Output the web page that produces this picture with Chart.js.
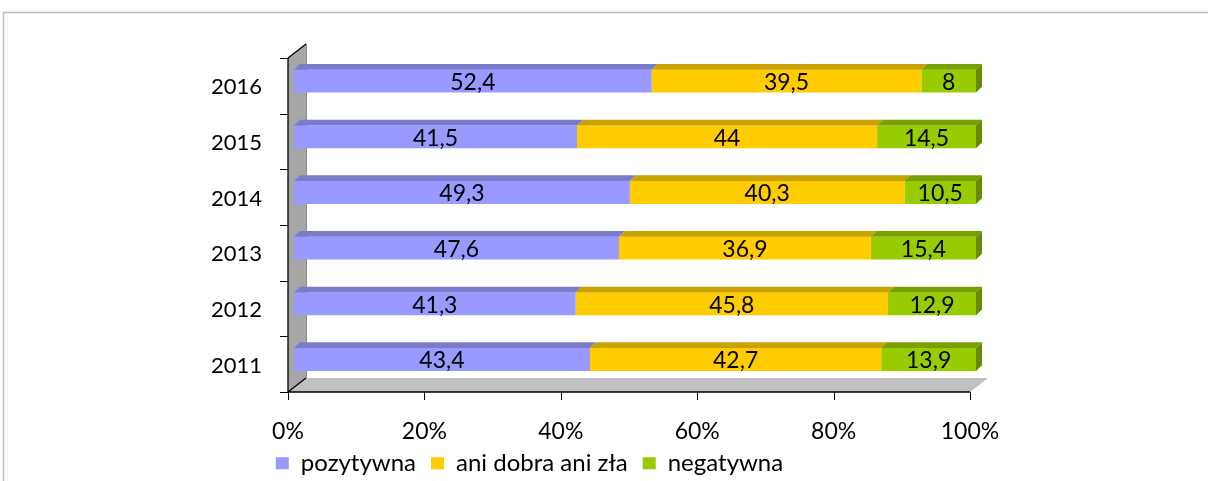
<!DOCTYPE html>
<html>
<head>
<meta charset="utf-8">
<script src="https://cdn.jsdelivr.net/npm/chart.js@4.4.1/dist/chart.umd.min.js"></script>
<style>
  html, body { margin: 0; padding: 0; background: #fff; }
</style>
</head>
<body>
<canvas id="chart" width="1208" height="481"></canvas>
<script>
// data (top row first)
const years = ['2016', '2015', '2014', '2013', '2012', '2011'];
const positive = [52.4, 41.5, 49.3, 47.6, 41.3, 43.4];
const neutral = [39.5, 44, 40.3, 36.9, 45.8, 42.7];
const negative = [8, 14.5, 10.5, 15.4, 12.9, 13.9];
const seriesNames = ['pozytywna', 'ani dobra ani zła', 'negatywna'];
const xTickValues = [0, 20, 40, 60, 80, 100];

const frontColors = ['#9999ff', '#ffcc00', '#99cc00'];
const topColors = ['#7b7bcb', '#c9a200', '#78a000'];
const sideColor = '#668a00';

// 3d look: bars sit a bit behind the front axis
const BAR_DX = 6, BAR_DY = 4.7;
const WALL_DX = 18, WALL_DY = 14;
const FONT = "Lato, 'Open Sans', sans-serif";

const rows = [positive, neutral, negative];
const totals = years.map((_, i) => positive[i] + neutral[i] + negative[i]);

function fmt(v) {
    return String(v).replace('.', ',');
}

const depth3d = {
    id: 'depth3d',
    afterLayout(chart) {
        // let the x labels overflow their box, move legend row down a bit
        chart.scales.x.bottom += 25;
        if (chart.legend) {
            chart.legend.top += 9;
            chart.legend.bottom += 9;
        }
    },
    beforeDraw(chart) {
        const ctx = chart.ctx;
        ctx.save();
        ctx.fillStyle = '#fff';
        ctx.fillRect(0, 0, chart.width, chart.height);
        ctx.strokeStyle = '#bfbfbf';
        ctx.lineWidth = 1.5;
        ctx.beginPath();
        ctx.moveTo(3.5, chart.height);
        ctx.lineTo(3.5, 12.5);
        ctx.lineTo(chart.width, 12.5);
        ctx.stroke();
        ctx.restore();
    },
    beforeDatasetsDraw(chart) {
        const { ctx, chartArea: a, scales: { x } } = chart;
        const x0 = x.getPixelForValue(0) - BAR_DX;
        const x1 = x.getPixelForValue(100) - BAR_DX;
        const top = a.top + BAR_DY;
        const bot = a.bottom + BAR_DY;
        ctx.save();
        // floor
        ctx.fillStyle = '#c0c0c0';
        ctx.beginPath();
        ctx.moveTo(x0, bot);
        ctx.lineTo(x1, bot);
        ctx.lineTo(x1 + WALL_DX, bot - WALL_DY);
        ctx.lineTo(x0 + WALL_DX, bot - WALL_DY);
        ctx.closePath();
        ctx.fill();
        // side wall
        ctx.fillStyle = '#a6a6a6';
        ctx.beginPath();
        ctx.moveTo(x0, bot);
        ctx.lineTo(x0, top);
        ctx.lineTo(x0 + WALL_DX, top - WALL_DY);
        ctx.lineTo(x0 + WALL_DX, bot - WALL_DY);
        ctx.closePath();
        ctx.fill();
        ctx.strokeStyle = '#8c8c8c';
        ctx.lineWidth = 1;
        ctx.beginPath();
        ctx.moveTo(x0 + WALL_DX + 0.5, top - WALL_DY);
        ctx.lineTo(x0 + WALL_DX + 0.5, bot - WALL_DY);
        ctx.stroke();
        ctx.strokeStyle = '#000';
        ctx.lineWidth = 1.3;
        ctx.beginPath();
        ctx.moveTo(x0, bot);
        ctx.lineTo(x0, top);
        ctx.lineTo(x0 + WALL_DX, top - WALL_DY);
        ctx.moveTo(x0, bot);
        ctx.lineTo(x0 + WALL_DX, bot - WALL_DY);
        ctx.moveTo(x0, bot);
        ctx.lineTo(x1, bot);
        ctx.stroke();
        // tick marks
        ctx.lineWidth = 1;
        ctx.beginPath();
        const band = (bot - top) / years.length;
        for (let i = 0; i <= years.length; i++) {
            const yy = Math.round(top + i * band) + 0.5;
            ctx.moveTo(x0 - 8, yy);
            ctx.lineTo(x0, yy);
        }
        xTickValues.forEach(v => {
            const xx = Math.round(x.getPixelForValue(v) - BAR_DX) + 0.5;
            ctx.moveTo(xx, bot);
            ctx.lineTo(xx, bot + 8);
        });
        ctx.stroke();
        ctx.restore();
    },
    afterDatasetsDraw(chart) {
        const ctx = chart.ctx;
        ctx.save();
        const metas = chart.data.datasets.map((_, d) => chart.getDatasetMeta(d));
        metas.forEach((meta, d) => {
            meta.data.forEach((bar, i) => {
                const h = bar.height / 2;
                const left = Math.min(bar.x, bar.base);
                const right = Math.max(bar.x, bar.base);
                const t = bar.y - h, b = bar.y + h;
                ctx.fillStyle = topColors[d];
                ctx.beginPath();
                ctx.moveTo(left, t);
                ctx.lineTo(right, t);
                ctx.lineTo(right + BAR_DX, t - BAR_DY - 1);
                ctx.lineTo(left + BAR_DX, t - BAR_DY - 1);
                ctx.closePath();
                ctx.fill();
                if (d === metas.length - 1) {
                    ctx.fillStyle = sideColor;
                    ctx.beginPath();
                    ctx.moveTo(right, t);
                    ctx.lineTo(right + BAR_DX, t - BAR_DY - 1);
                    ctx.lineTo(right + BAR_DX, b - BAR_DY - 1);
                    ctx.lineTo(right, b);
                    ctx.closePath();
                    ctx.fill();
                }
                // value label
                ctx.fillStyle = '#000';
                ctx.font = '23px ' + FONT;
                ctx.textAlign = 'center';
                ctx.textBaseline = 'middle';
                ctx.fillText(fmt(rows[d][i]), (left + right) / 2, bar.y + 1.5);
            });
        });
        ctx.restore();
    }
};

new Chart(document.getElementById('chart'), {
    type: 'bar',
    data: {
        labels: years,
        datasets: rows.map((vals, d) => ({
            label: seriesNames[d],
            data: vals.map((v, i) => v / totals[i] * 100),
            backgroundColor: frontColors[d],
            borderWidth: 0,
            barPercentage: 0.41,
            categoryPercentage: 1
        }))
    },
    options: {
        indexAxis: 'y',
        responsive: false,
        animation: false,
        layout: { padding: { left: 83, right: 232, top: 53.3, bottom: 4.7 } },
        plugins: {
            tooltip: { enabled: false },
            legend: {
                position: 'bottom',
                labels: {
                    boxWidth: 13,
                    boxHeight: 12,
                    padding: 15,
                    color: '#000',
                    font: { family: FONT, size: 24 }
                }
            }
        },
        scales: {
            x: {
                stacked: true,
                min: 0,
                max: 100,
                afterBuildTicks(scale) {
                    scale.ticks = xTickValues.map(v => ({ value: v }));
                },
                afterFit(scale) { scale.height = 40; },
                grid: { display: false, drawTicks: false },
                border: { display: false },
                ticks: {
                    padding: 30,
                    labelOffset: -BAR_DX,
                    color: '#000',
                    font: { family: FONT, size: 23 },
                    callback: v => v + '%'
                }
            },
            y: {
                stacked: true,
                afterFit(scale) { scale.width = 211; },
                grid: { display: false, drawTicks: false },
                border: { display: false },
                ticks: {
                    padding: 32,
                    labelOffset: 6,
                    color: '#000',
                    font: { family: FONT, size: 22 }
                }
            }
        }
    },
    plugins: [depth3d]
});
</script>
</body>
</html>
